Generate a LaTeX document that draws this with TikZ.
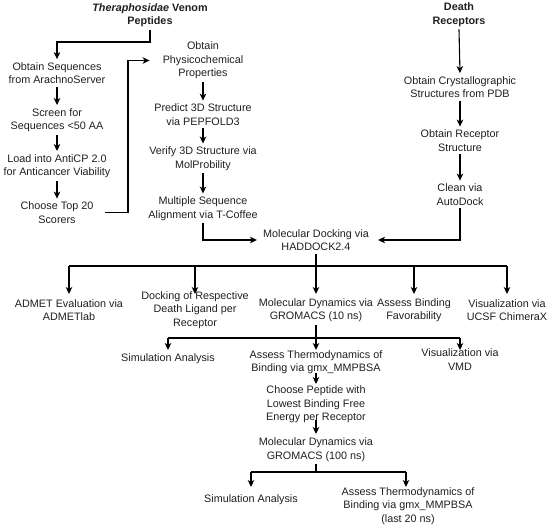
\documentclass[tikz,border=0pt]{standalone}
\usepackage{fontspec}
\setmainfont{Liberation Sans}
\usetikzlibrary{arrows.meta,calc}
\begin{document}
\begin{tikzpicture}[x=1pt,y=-1pt,
  lbl/.style={align=center,inner sep=3pt,text=black!88,font=\fontsize{10.8}{13.5}\selectfont},
  conn/.style={line width=1.1pt,black},
  arr/.style={conn,-{Stealth[length=7pt,width=6.5pt,inset=2pt]}}]
\useasboundingbox (0,0) rectangle (550,528);
% nodes
\node[lbl] (title) at (150,15) {\textbf{\textit{Theraphosidae} Venom}\\\textbf{Peptides}};
\node[lbl] (seq) at (57,73) {Obtain Sequences\\from ArachnoServer};
\node[lbl] (screen) at (57,120) {Screen for\\Sequences <50 AA};
\node[lbl] (load) at (57,166) {Load into AntiCP 2.0\\for Anticancer Viability};
\node[lbl] (choose) at (57,212.5) {Choose Top 20\\Scorers};
\node[lbl] (phys) at (203,60.5) {Obtain\\Physicochemical\\Properties};
\node[lbl] (predict) at (203,114.5) {Predict 3D Structure\\via PEPFOLD3};
\node[lbl] (verify) at (203,158.5) {Verify 3D Structure via\\MolProbility};
\node[lbl] (msa) at (203,208.5) {Multiple Sequence\\Alignment via T-Coffee};
\node[lbl] (dock) at (316,240) {Molecular Docking via\\HADDOCK2.4};
\node[lbl] (death) at (459,14.5) {\textbf{Death}\\\textbf{Receptors}};
\node[lbl] (crystal) at (460,87) {Obtain Crystallographic\\Structures from PDB};
\node[lbl] (receptor) at (460,140.5) {Obtain Receptor\\Structure};
\node[lbl] (clean) at (460,194.5) {Clean via\\AutoDock};
\node[lbl] (admet) at (69,310) {ADMET Evaluation via\\ADMETlab};
\node[lbl] (docklig) at (195,310) {Docking of Respective\\Death Ligand per\\Receptor};
\node[lbl] (md10) at (316,310) {Molecular Dynamics via\\GROMACS (10 ns)};
\node[lbl] (assess) at (414,310) {Assess Binding\\Favorability};
\node[lbl] (visc) at (507,310) {Visualization via\\UCSF ChimeraX};
\node[lbl] (sim1) at (168,359) {Simulation Analysis};
\node[lbl] (thermo1) at (316,362) {Assess Thermodynamics of\\Binding via gmx\_MMPBSA};
\node[lbl] (vmd) at (460,359.5) {Visualization via\\VMD};
\node[lbl] (choosepep) at (316,404.5) {Choose Peptide with\\Lowest Binding Free\\Energy per Receptor};
\node[lbl] (md100) at (316,449.5) {Molecular Dynamics via\\GROMACS (100 ns)};
\node[lbl] (sim2) at (251,500) {Simulation Analysis};
\node[lbl] (thermo2) at (408,506) {Assess Thermodynamics of\\Binding via gmx\_MMPBSA\\(last 20 ns)};
% helper coordinates
\coordinate (b1) at (0,42);
\coordinate (xl) at (128,0);
\coordinate (b2) at (0,266);
\coordinate (t2) at (0,294);
\coordinate (b3) at (0,338);
\coordinate (t3) at (0,350);
\coordinate (c1) at (0,373);
\coordinate (c2) at (0,384);
\coordinate (c3) at (0,420);
\coordinate (c4) at (0,434);
\coordinate (b4) at (0,472);
\coordinate (t4) at (0,487);
% left column
\draw[arr] (title.south) -- (title.south |- b1) -| (seq.north);
\draw[arr] (seq.south) -- (screen.north);
\draw[arr] (screen.south) -- (load.north);
\draw[arr] (load.south) -- (choose.north);
\draw[arr] ([xshift=8pt]choose.east) -- (xl |- choose.east) |- ([xshift=-10pt]phys.west);
% middle column
\draw[arr] (phys.south) -- (predict.north);
\draw[arr] (predict.south) -- (verify.north);
\draw[arr] (verify.south) -- (msa.north);
\draw[arr] (msa.south) |- ([xshift=-3pt]dock.west);
% right column
\draw[arr] (death.south) -- (crystal.north);
\draw[arr] (crystal.south) -- (receptor.north);
\draw[arr] (receptor.south) -- (clean.north);
\draw[arr] (clean.south) |- ([xshift=6pt]dock.east);
% docking fan-out
\draw[conn] (dock.south) -- (dock |- b2);
\draw[conn] (admet |- b2) -- (visc |- b2);
\foreach \n in {admet,docklig,md10,assess,visc}
  \draw[arr] (\n |- b2) -- (\n |- t2);
% MD 10 ns fan-out
\draw[conn] (md10.south) -- (md10 |- b3);
\draw[conn] (sim1 |- b3) -- (vmd |- b3);
\foreach \n in {sim1,thermo1,vmd}
  \draw[arr] (\n |- b3) -- (\n |- t3);
% chain
\draw[arr] (thermo1 |- c1) -- (choosepep |- c2);
\draw[arr] (choosepep |- c3) -- (md100 |- c4);
% MD 100 ns fan-out
\draw[conn] (md100.south) -- (md100 |- b4);
\draw[conn] (sim2 |- b4) -- ([xshift=-2pt]thermo2 |- b4);
\draw[arr] (sim2 |- b4) -- (sim2 |- t4);
\draw[arr] ([xshift=-2pt]thermo2 |- b4) -- ([xshift=-2pt]thermo2 |- t4);
\end{tikzpicture}
\end{document}
